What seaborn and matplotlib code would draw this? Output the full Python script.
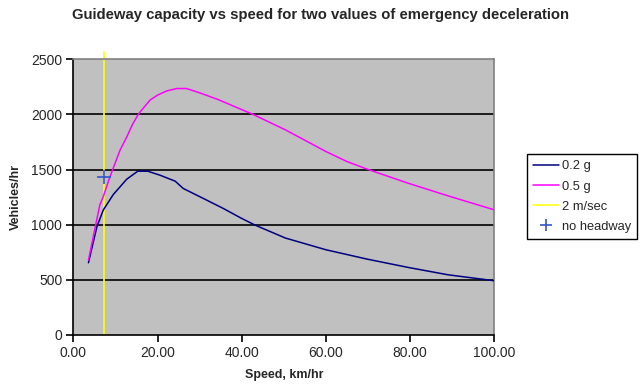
import pandas as pd
import numpy as np
import matplotlib
matplotlib.use('Agg')
import matplotlib.pyplot as plt
import seaborn as sns
from matplotlib.lines import Line2D

# Values
speed_02 = [3.6, 5.6, 7.1, 9.5, 12.7, 15.3, 17.7, 20.6, 24.2, 26.1, 30.9, 35.6, 40.0, 43.2,
            50.4, 60.0, 69.8, 79.5, 89.0, 100.0]
cap_02 = [655, 981, 1132, 1274, 1413, 1485, 1485, 1449, 1395, 1329, 1238, 1148, 1057, 996,
          879, 773, 688, 613, 546, 492]

speed_05 = [3.6, 6.3, 7.1, 8.7, 11.1, 12.7, 14.0, 15.5, 18.2, 20.0, 22.2, 24.6, 26.9, 30.1,
            34.4, 42.6, 50.4, 60.0, 65.0, 69.8, 79.5, 89.0, 100.0]
cap_05 = [679, 1180, 1253, 1434, 1676, 1796, 1905, 2005, 2129, 2175, 2213, 2235, 2235, 2195,
          2135, 2002, 1860, 1664, 1573, 1504, 1377, 1262, 1135]

line_2ms_x = [7.2, 7.2]
line_2ms_y = [0, 2566]

no_headway_x = [7.2]
no_headway_y = [1434]

series_names = ['0.2 g', '0.5 g', '2 m/sec', 'no headway']
colors = {'0.2 g': '#000080', '0.5 g': '#ff00ff', '2 m/sec': '#ffff00', 'no headway': '#3355cc'}

df = pd.concat([
    pd.DataFrame({'speed': speed_02, 'cap': cap_02, 'series': '0.2 g'}),
    pd.DataFrame({'speed': speed_05, 'cap': cap_05, 'series': '0.5 g'}),
])

sns.set_theme(style='white')
plt.rcParams['font.family'] = ['Liberation Sans', 'DejaVu Sans']

fig = plt.figure(figsize=(6.4, 3.89), dpi=100)
fig.patch.set_facecolor('white')
ax = fig.add_axes([73.3 / 640, 54 / 389, 421 / 640, 275.7 / 389])
ax.set_facecolor('#c0c0c0')

for y in [500, 1000, 1500, 2000]:
    ax.axhline(y, color='black', lw=1.2, zorder=1)

# yellow 2 m/sec line pokes above the plot area like in the original
ax.plot(line_2ms_x, line_2ms_y, color=colors['2 m/sec'], lw=1.2, clip_on=False, zorder=2)

sns.lineplot(data=df, x='speed', y='cap', hue='series', palette=colors,
             hue_order=['0.2 g', '0.5 g'], lw=1.1, legend=False, ax=ax, zorder=3,
             estimator=None, sort=False)

ax.plot(no_headway_x, no_headway_y, ls='none', marker='+', ms=10, mew=1.2,
        color=colors['no headway'], zorder=4)

ax.set_xlim(0, 100)
ax.set_ylim(0, 2500)
ax.set_xticks(np.arange(0, 101, 20))
ax.set_xticklabels([f'{v:.2f}' for v in np.arange(0, 101, 20)])
ax.set_yticks(np.arange(0, 2501, 500))

for side in ['top', 'right']:
    ax.spines[side].set_color('#808080')
    ax.spines[side].set_linewidth(1.2)
for side in ['left', 'bottom']:
    ax.spines[side].set_color('black')
    ax.spines[side].set_linewidth(1.2)

ax.tick_params(axis='both', direction='out', length=5, width=1.2, color='black',
               labelsize=10, pad=3, left=True, bottom=True)

ax.set_xlabel('Speed, km/hr', fontsize=9, fontweight='bold')
ax.set_ylabel('Vehicles/hr', fontsize=9, fontweight='bold')
ax.xaxis.set_label_coords(0.5, -0.125)
ax.yaxis.set_label_coords(-0.123, 0.5)

fig.suptitle('Guideway capacity vs speed for two values of emergency deceleration',
             x=0.5, y=0.962, va='center', fontsize=10.7, fontweight='bold')

handles = [
    Line2D([], [], color=colors['0.2 g'], lw=1.1),
    Line2D([], [], color=colors['0.5 g'], lw=1.1),
    Line2D([], [], color=colors['2 m/sec'], lw=1.1),
    Line2D([], [], ls='none', marker='+', ms=8, mew=1.2, color=colors['no headway']),
]
leg = fig.legend(handles, series_names, loc='upper left', bbox_to_anchor=(526.7 / 640, 1 - 154 / 389),
                 bbox_transform=fig.transFigure, frameon=True, fancybox=False, framealpha=1,
                 edgecolor='black', fontsize=9.3, handlelength=2.0, handletextpad=0.2,
                 borderpad=0.5, labelspacing=0.62, borderaxespad=0)
leg.get_frame().set_linewidth(1.0)

fig.savefig('out.png', dpi=100, facecolor='white')
